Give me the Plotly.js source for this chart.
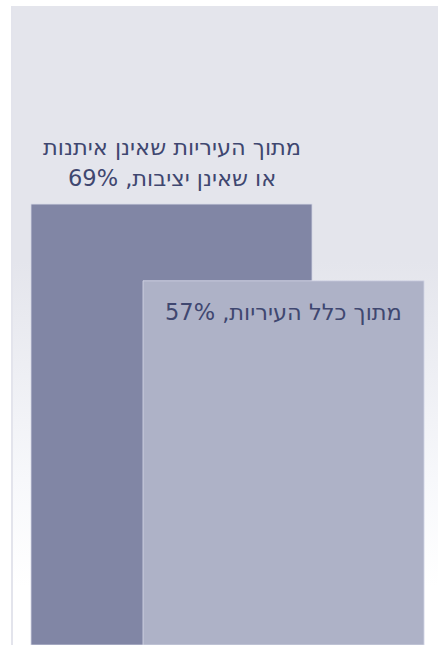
<!DOCTYPE html>
<html>
<head>
<meta charset="utf-8">
<script src="https://cdn.plot.ly/plotly-3.0.1.min.js"></script>
<style>
  html, body { margin: 0; padding: 0; background: #ffffff; }
  #wrap { position: relative; width: 438px; height: 645px; overflow: hidden; }
  #bg {
    position: absolute; left: 11px; top: 6px; width: 425px; height: 639px;
    border-left: 2px solid #e3e4ec;
    background: linear-gradient(to bottom, #e4e5ec 0%, #e4e5ec 40%, #f7f8fb 74%, #ffffff 91%, #ffffff 100%);
  }
  #chart { position: absolute; left: 0; top: 0; width: 438px; height: 645px; }
</style>
</head>
<body>
<div id="wrap">
  <div id="bg"></div>
  <div id="chart"></div>
</div>
<script>
// Data
var categories = ["מתוך העיריות שאינן איתנות או שאינן יציבות", "מתוך כלל העיריות"];
var values = [69, 57];
var labelLines = [
  ["מתוך העיריות שאינן איתנות", "או שאינן יציבות, 69%"],
  ["מתוך כלל העיריות, 57%"]
];
var barColors = ["#8186a5", "#aeb2c7"];

var positions = [0, 1];
var barWidth = 2.509;
var textColor = "#3f4770";
var fontFamily = "'DejaVu Sans', sans-serif";
var fontSize = 22.5;

var traces = positions.map(function (p, i) {
  return {
    type: "bar",
    x: [p],
    y: [values[i]],
    width: [barWidth],
    name: categories[i],
    marker: { color: barColors[i], line: { color: "rgba(215,218,232,0.8)", width: 1 } },
    hoverinfo: "none",
    showlegend: false
  };
});

var annotations = [];
labelLines[0].forEach(function (line, k) {
  var n = labelLines[0].length;
  annotations.push({
    x: positions[0], y: values[0], xref: "x", yref: "y",
    text: line, showarrow: false,
    xanchor: "center", yanchor: "middle",
    yshift: 26 + (n - 1 - k) * 31,
    font: { family: fontFamily, size: fontSize, color: textColor }
  });
});
labelLines[1].forEach(function (line, k) {
  annotations.push({
    x: positions[1], y: values[1], xref: "x", yref: "y",
    text: line, showarrow: false,
    xanchor: "center", yanchor: "middle",
    yshift: -31 - k * 31,
    font: { family: fontFamily, size: fontSize, color: textColor }
  });
});

var layout = {
  width: 438, height: 645,
  margin: { l: 11, r: 0, t: 6, b: 0, pad: 0 },
  paper_bgcolor: "rgba(0,0,0,0)",
  plot_bgcolor: "rgba(0,0,0,0)",
  barmode: "overlay",
  xaxis: { visible: false, range: [-1.433, 2.379], fixedrange: true },
  yaxis: { visible: false, range: [0, 100], fixedrange: true },
  annotations: annotations,
  showlegend: false
};

Plotly.newPlot("chart", traces, layout, { displayModeBar: false, staticPlot: true });
</script>
</body>
</html>
